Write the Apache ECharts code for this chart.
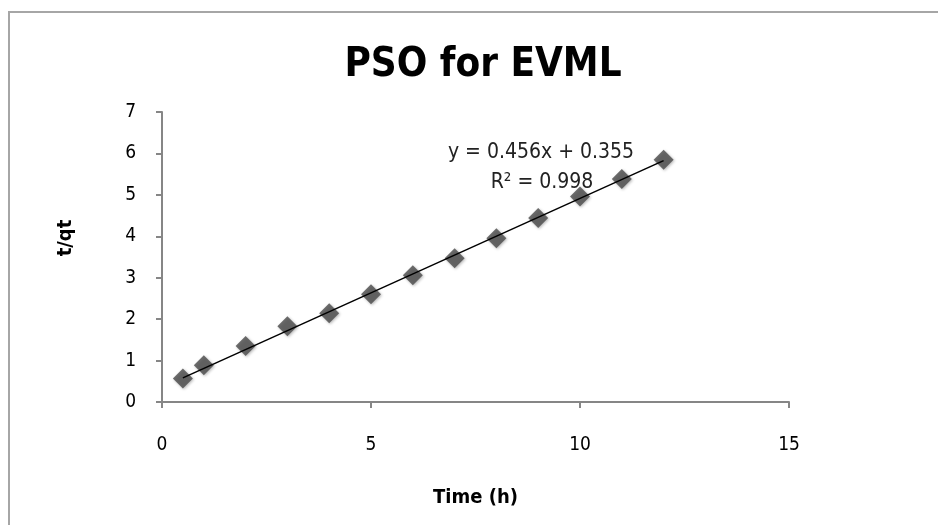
<!DOCTYPE html>
<html><head><meta charset="utf-8">
<script src="https://cdn.jsdelivr.net/npm/echarts@6/dist/echarts.min.js"></script>
<style>html,body{margin:0;padding:0;background:#fff}#c{width:938px;height:525px}</style>
</head><body><div id="c"></div>
<script>
const timeH = [0.5, 1, 2, 3, 4, 5, 6, 7, 8, 9, 10, 11, 12];
const tqt = [0.57, 0.89, 1.35, 1.83, 2.14, 2.60, 3.06, 3.47, 3.95, 4.44, 4.96, 5.38, 5.85];
const slope = 0.456, intercept = 0.355, r2 = 0.998;
const trendX = [0.5, 12];

const font = '"DejaVu Sans Condensed", sans-serif';
const chart = echarts.init(document.getElementById('c'));
chart.setOption({
  animation: false,
  backgroundColor: '#fff',
  title: {
    text: 'PSO for EVML', left: 478, top: 41, textAlign: 'center',
    textStyle: { fontFamily: font, fontWeight: 'bold', fontSize: 40, color: '#000' }
  },
  grid: { left: 162, top: 112, width: 627, height: 290 },
  xAxis: {
    type: 'value', min: 0, max: 15, interval: 5,
    name: 'Time (h)', nameLocation: 'middle', nameGap: 86,
    nameTextStyle: { fontFamily: font, fontWeight: 'bold', fontSize: 20, color: '#000' },
    axisLine: { lineStyle: { color: '#868686', width: 2 } },
    axisTick: { show: true, length: 6, lineStyle: { color: '#868686', width: 2 } },
    axisLabel: { margin: 34, fontFamily: font, fontSize: 19, color: '#000' },
    splitLine: { show: false }
  },
  yAxis: {
    type: 'value', min: 0, max: 7, interval: 1,
    axisLine: { show: true, lineStyle: { color: '#868686', width: 2 } },
    axisTick: { show: true, length: 6, lineStyle: { color: '#868686', width: 2 } },
    axisLabel: { margin: 26, fontFamily: font, fontSize: 19, color: '#000' },
    splitLine: { show: false }
  },
  series: [
    {
      type: 'line', data: trendX.map(x => [x, slope * x + intercept]),
      showSymbol: false, lineStyle: { color: '#000', width: 1.5 }, z: 3
    },
    {
      type: 'scatter', data: timeH.map((x, i) => [x, tqt[i]]),
      symbol: 'diamond', symbolSize: 20,
      itemStyle: { color: '#4a4a4a', shadowColor: 'rgba(0,0,0,0.35)', shadowBlur: 3, shadowOffsetX: 1, shadowOffsetY: 1 },
      z: 2
    }
  ],
  graphic: [
    { type: 'rect', shape: { x: 9, y: 12, width: 1000, height: 600 }, style: { fill: 'none', stroke: '#a6a6a6', lineWidth: 2 }, silent: true },
    { type: 'text', x: 66, y: 238, rotation: Math.PI / 2, style: { text: 't/qt', font: 'bold 20px ' + font, fill: '#000', textAlign: 'center', textVerticalAlign: 'middle' }, z: 10 },
    { type: 'text', x: 541, y: 153, style: { text: 'y = ' + slope + 'x + ' + intercept, font: '21px ' + font, fill: '#222', textAlign: 'center', textVerticalAlign: 'middle' }, z: 10 },
    { type: 'text', x: 542, y: 183, style: { text: 'R² = ' + r2, font: '21px ' + font, fill: '#222', textAlign: 'center', textVerticalAlign: 'middle' }, z: 10 }
  ]
});
</script></body></html>
